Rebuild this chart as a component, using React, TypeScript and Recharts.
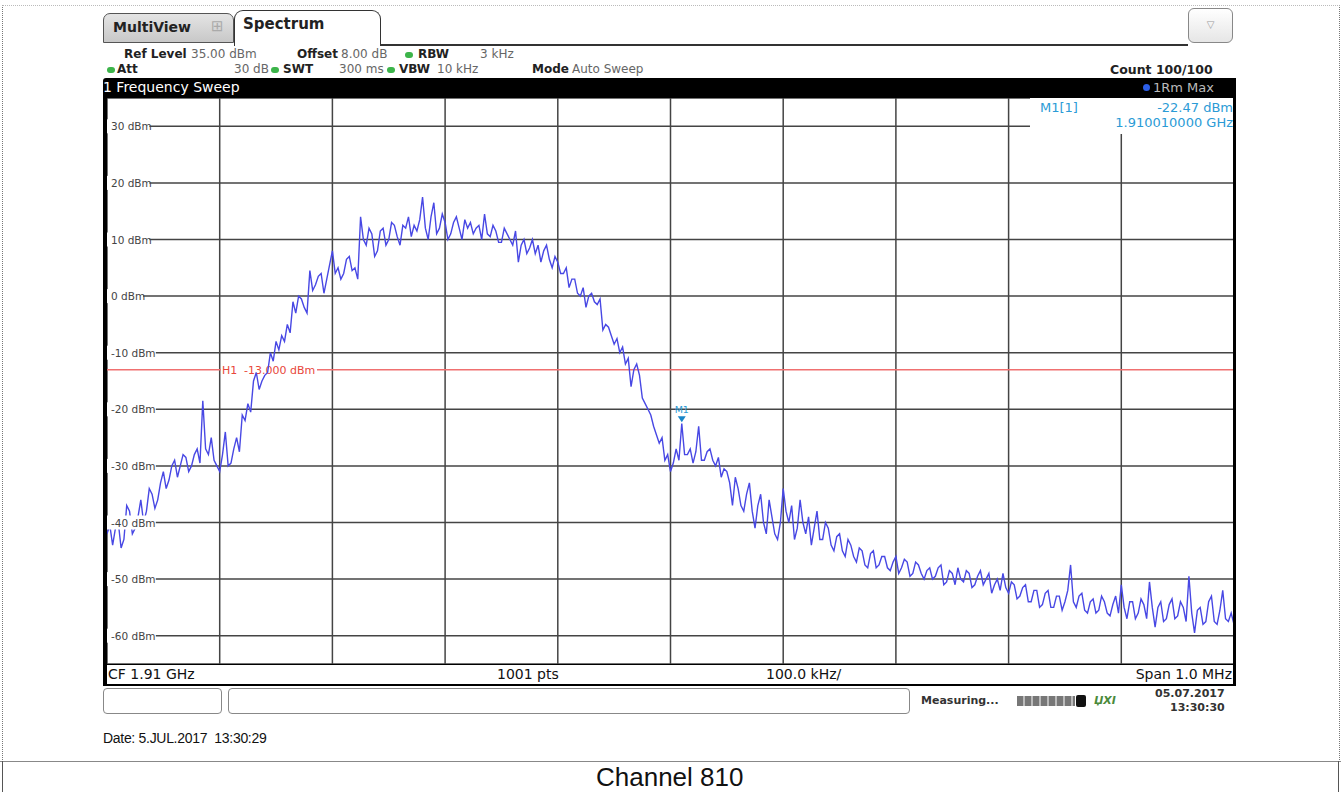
import React from 'react';
import { LineChart, Line, XAxis, YAxis, CartesianGrid, ReferenceLine, ReferenceDot } from 'recharts';

// sweep: CF 1.91 GHz, span 1 MHz, trace every 2.5 kHz
const START_KHZ = -500;
const STEP_KHZ = 2.5;

const levelsDbm = [
  -42, -40.5, -44, -41, -40, -44.5, -43, -37, -38, -42,
  -41, -39, -36, -40, -38, -34, -35, -37.5, -36, -33,
  -31, -34, -32.5, -30, -29, -32, -30, -28, -28.5, -31,
  -30, -28, -27, -29.5, -18.5, -27, -28, -25, -29, -30,
  -31, -28, -24, -30, -29.5, -27, -25, -27.5, -21, -22,
  -19, -20.5, -15, -13.5, -16.5, -15, -14, -13.5, -10, -11.5,
  -8, -9.5, -7, -8, -5, -6.5, -1, -3, 0, -0.5,
  -2, -3, 4.5, 1, 2, 3.5, 4, 0.5, 3, 5.5,
  8, 4, 5, 3, 4, 6.5, 7, 4.5, 5, 3,
  14, 10, 9, 12, 11, 7, 8, 11.5, 12, 9,
  10, 13, 12.5, 10.5, 9, 12.5, 12, 14, 10.5, 12.5,
  11.5, 13.5, 17.5, 12, 10, 14, 16.5, 11, 12, 14.5,
  13, 10, 11, 13, 14, 12, 10, 13.5, 12, 13,
  11, 12, 12.5, 10, 14.5, 11, 10.5, 12.5, 11.5, 9.5,
  9.5, 12, 11, 10, 9, 11.5, 6, 9, 10, 7.5,
  8.5, 10, 7.5, 9, 6, 8, 9, 6.5, 5, 7,
  6, 4, 4, 5, 1.5, 3, 3, 0.5, 0, 1.5,
  -2, 0, 0.5, -1, -1.5, -0.5, -6, -5, -5.5, -7,
  -8.5, -7.5, -10, -9, -12, -11, -16, -13, -12, -14,
  -18, -19, -20, -21, -23, -24.5, -26, -25, -29, -28,
  -31, -29.5, -27, -29, -22.5, -28, -28, -27, -29.5, -27.5,
  -23, -29, -29, -27.5, -27, -29, -30, -28.5, -32, -30.5,
  -31, -33, -37, -32, -34, -37, -38, -35, -33, -38,
  -41, -37, -35, -40, -42, -36, -39, -42, -43, -40,
  -34, -38, -40, -37, -43, -41, -36, -40, -42, -39,
  -44, -41, -38, -43, -43, -40, -41, -44, -45, -42.5,
  -42, -45, -46, -43, -44, -46, -47, -44.5, -45, -47.5,
  -48, -45.5, -45, -48, -47.5, -46, -46, -48, -48.5, -47,
  -46, -49, -48, -46.5, -47, -49.5, -49, -47, -47.5, -49,
  -50, -48.5, -48, -50, -49.5, -48, -47.5, -51, -50.5, -48.5,
  -49, -51, -48, -50, -50.5, -48.5, -49, -51.5, -51, -49.5,
  -48.5, -51, -50, -49, -52.5, -51, -50, -52, -49, -51.5,
  -52.5, -50.5, -51, -53.5, -53, -51.5, -51, -54, -54, -52,
  -52, -55, -54.5, -52.5, -52, -55, -55, -53, -53, -55.5,
  -54, -52, -47.5, -54, -55, -53, -52.5, -55.5, -56, -54,
  -53.5, -56, -55.5, -53, -54, -56, -56.5, -54.5, -53, -56,
  -51, -55, -57, -54, -54, -57, -56, -53.5, -54.5, -57,
  -50.5, -55, -58.5, -55, -54, -57.5, -57, -54.5, -53.5, -57,
  -56.5, -54, -55, -57.5, -49.5, -56, -59.5, -55.5, -55, -58,
  -57.5, -54, -53, -57.5, -58, -55.5, -52, -57, -57.5, -56,
  -58,
];

const levelTicks = [30, 20, 10, 0, -10, -20, -30, -40, -50, -60];
const freqGrid = [-400, -300, -200, -100, 0, 100, 200, 300, 400];
const limitH1 = -13;
const markerM1 = { name: 'M1', freqKHz: 10, level: -22.47 };

const sweepData = levelsDbm.map((v, i) => ({ f: START_KHZ + i * STEP_KHZ, level: v }));

const font = '"DejaVu Sans", Verdana, sans-serif';
const markerBlue = '#2b9bd6';

const LevelTick = (props: any) => {
  const { y, payload } = props;
  const label = `${payload.value} dBm`;
  const w = label.length * 6.4 + 4;
  return (
    <g>
      <rect x={0} y={y - 7} width={w} height={14} fill="#fff" />
      <text x={4} y={y + 4} fontSize={10.5} fill="#444" fontFamily={font}>{label}</text>
    </g>
  );
};

const H1Label = (props: any) => {
  const vb = props.viewBox || {};
  return (
    <g fontFamily={font} fontSize={11} fill="#e8473b">
      <rect x={114} y={vb.y - 6} width={96} height={12} fill="#fff" />
      <text x={115} y={vb.y + 4}>H1</text>
      <text x={137} y={vb.y + 4}>-13.000 dBm</text>
    </g>
  );
};

const MarkerShape = (props: any) => {
  const { cx, cy } = props;
  return (
    <g>
      <text x={cx} y={cy - 10} textAnchor="middle" fontSize={9.5} fill={markerBlue} fontFamily={font}>
        {markerM1.name}
      </text>
      <path d={`M${cx - 4},${cy - 7} L${cx + 4},${cy - 7} L${cx},${cy - 1} Z`} fill="#1a86c8" />
    </g>
  );
};

const abs = (left: number, top: number, extra: React.CSSProperties = {}): React.CSSProperties => ({
  position: 'absolute', left, top, whiteSpace: 'nowrap', ...extra,
});

const Dot = ({ left, top }: { left: number; top: number }) => (
  <div style={abs(left, top, { width: 8, height: 6, borderRadius: 4, background: '#3cb44a' })} />
);

export default function App() {
  const lbl: React.CSSProperties = { fontSize: 12, fontWeight: 'bold', color: '#222' };
  const val: React.CSSProperties = { fontSize: 12, color: '#666' };
  return (
    <div style={{ position: 'absolute', left: 0, top: 0, width: 1341, height: 792, background: '#fff', fontFamily: font, overflow: 'hidden' }}>
      {/* page frame */}
      <div style={abs(2, 5, { width: 1336, height: 756, borderLeft: '1px dotted #777', borderRight: '1px dotted #777', borderTop: '1px dotted #bbb' })} />
      <div style={abs(0, 761, { width: 1341, height: 31, borderTop: '1px solid #888' })} />
      <div style={abs(2, 761, { width: 1, height: 31, background: '#555' })} />
      <div style={abs(1338, 761, { width: 1, height: 31, background: '#555' })} />

      {/* tabs */}
      <div style={abs(103, 13, { width: 131, height: 30, border: '1px solid #555', borderRadius: '7px 7px 0 0', background: 'linear-gradient(#e4e4e4, #c8c8c8)', boxSizing: 'border-box' })}>
        <span style={{ position: 'absolute', left: 9, top: 5, fontSize: 14, fontWeight: 'bold', color: '#222' }}>MultiView</span>
        <span style={{ position: 'absolute', left: 107, top: 3, fontSize: 15, color: '#aaa' }}>⊞</span>
      </div>
      <div style={abs(234, 10, { width: 147, height: 36, border: '1.5px solid #333', borderBottom: 'none', borderRadius: '9px 9px 0 0', background: '#fff', boxSizing: 'border-box' })}>
        <span style={{ position: 'absolute', left: 8, top: 4, fontSize: 15, fontWeight: 'bold', color: '#222' }}>Spectrum</span>
      </div>
      <div style={abs(380, 44, { width: 808, height: 1.5, background: '#333' })} />
      <div style={abs(1188, 8, { width: 45, height: 35, border: '1.5px solid #888', borderRadius: 6, background: 'linear-gradient(#fff, #e6e6e6)', boxSizing: 'border-box', textAlign: 'center', fontSize: 10, color: '#999', lineHeight: '32px' })}>▽</div>

      {/* settings */}
      <span style={abs(124, 47, lbl)}>Ref Level</span>
      <span style={abs(191, 47, val)}>35.00 dBm</span>
      <span style={abs(297, 47, lbl)}>Offset</span>
      <span style={abs(341, 47, val)}>8.00 dB</span>
      <Dot left={405} top={52} />
      <span style={abs(418, 47, lbl)}>RBW</span>
      <span style={abs(480, 47, val)}>3 kHz</span>
      <Dot left={107} top={67} />
      <span style={abs(117, 62, lbl)}>Att</span>
      <span style={abs(234, 62, val)}>30 dB</span>
      <Dot left={271} top={67} />
      <span style={abs(283, 62, lbl)}>SWT</span>
      <span style={abs(339, 62, val)}>300 ms</span>
      <Dot left={387} top={67} />
      <span style={abs(399, 62, lbl)}>VBW</span>
      <span style={abs(437, 62, val)}>10 kHz</span>
      <span style={abs(532, 62, lbl)}>Mode</span>
      <span style={abs(572, 62, val)}>Auto Sweep</span>
      <span style={abs(1110, 62, { fontSize: 12.5, fontWeight: 'bold', color: '#222' })}>Count 100/100</span>

      {/* window title bar */}
      <div style={abs(103, 78, { width: 1133, height: 20, background: '#000', borderRadius: '3px 3px 0 0' })}>
        <span style={{ position: 'absolute', left: 0, top: 1, fontSize: 14, color: '#fff' }}>1 Frequency Sweep</span>
        <span style={{ position: 'absolute', left: 1040, top: 6, width: 7, height: 7, borderRadius: 4, background: '#2c5ee8' }} />
        <span style={{ position: 'absolute', left: 1050, top: 2, fontSize: 13, color: '#bbb' }}>1Rm Max</span>
      </div>

      {/* diagram */}
      <div style={abs(107, 98)}>
        <LineChart width={1127} height={566} data={sweepData} margin={{ top: 0, right: 0, bottom: 0, left: 0 }}>
          <CartesianGrid stroke="#444" strokeWidth={1.5} />
          <XAxis dataKey="f" type="number" domain={[-500, 500]} ticks={freqGrid} hide />
          <YAxis type="number" domain={[-65, 35]} ticks={levelTicks} mirror axisLine={false} tickLine={false} tick={<LevelTick />} />
          <ReferenceLine y={limitH1} stroke="#f07070" strokeWidth={1.5} label={<H1Label />} />
          <Line type="linear" dataKey="level" stroke="#4848e4" strokeWidth={1.4} dot={false} isAnimationActive={false} />
          <ReferenceDot x={markerM1.freqKHz} y={markerM1.level} r={0} shape={<MarkerShape />} />
        </LineChart>
      </div>
      <div style={abs(1030, 98, { width: 203, height: 36, background: '#fff' })}>
        <span style={{ position: 'absolute', left: 10, top: 2, fontSize: 13, color: markerBlue }}>M1[1]</span>
        <span style={{ position: 'absolute', right: 0, top: 2, fontSize: 13, color: markerBlue }}>-22.47 dBm</span>
        <span style={{ position: 'absolute', right: 0, top: 17, fontSize: 13, color: markerBlue }}>1.910010000 GHz</span>
      </div>
      <div style={abs(103, 98, { width: 4, height: 588, background: '#000' })} />
      <div style={abs(1233, 78, { width: 3, height: 608, background: '#000' })} />

      {/* frequency bar */}
      <div style={abs(103, 664, { width: 1133, height: 22, borderTop: '1.5px solid #000', borderBottom: '2px solid #000', boxSizing: 'border-box', fontSize: 14, color: '#111' })}>
        <span style={{ position: 'absolute', left: 5, top: 1 }}>CF 1.91 GHz</span>
        <span style={{ position: 'absolute', left: 394, top: 1 }}>1001 pts</span>
        <span style={{ position: 'absolute', left: 663, top: 1 }}>100.0 kHz/</span>
        <span style={{ position: 'absolute', right: 4, top: 1 }}>Span 1.0 MHz</span>
      </div>

      {/* status bar */}
      <div style={abs(103, 688, { width: 119, height: 26, border: '1px solid #888', borderRadius: 4, boxSizing: 'border-box' })} />
      <div style={abs(228, 688, { width: 682, height: 26, border: '1px solid #888', borderRadius: 4, boxSizing: 'border-box' })} />
      <span style={abs(921, 694, { fontSize: 11, fontWeight: 'bold', color: '#333' })}>Measuring...</span>
      <div style={abs(1017, 696, { width: 58, height: 10, background: 'repeating-linear-gradient(90deg, #777 0 6px, #bbb 6px 8px)' })} />
      <div style={abs(1076, 695, { width: 10, height: 12, background: '#111', borderRadius: 2 })} />
      <span style={abs(1094, 694, { fontSize: 11, fontWeight: 'bold', fontStyle: 'italic', color: '#4a8a3a' })}>ЏXI</span>
      <span style={abs(1155, 687, { fontSize: 11, fontWeight: 'bold', color: '#333' })}>05.07.2017</span>
      <span style={abs(1170, 701, { fontSize: 11, fontWeight: 'bold', color: '#333' })}>13:30:30</span>

      <span style={abs(103, 730, { fontFamily: '"Liberation Sans", Arial, sans-serif', fontSize: 14, color: '#111', letterSpacing: -0.3, whiteSpace: 'pre' })}>
        {'Date: 5.JUL.2017  13:30:29'}
      </span>
      <span style={abs(596, 762, { fontFamily: '"Liberation Sans", Arial, sans-serif', fontSize: 26, color: '#111' })}>
        Channel 810
      </span>
    </div>
  );
}
